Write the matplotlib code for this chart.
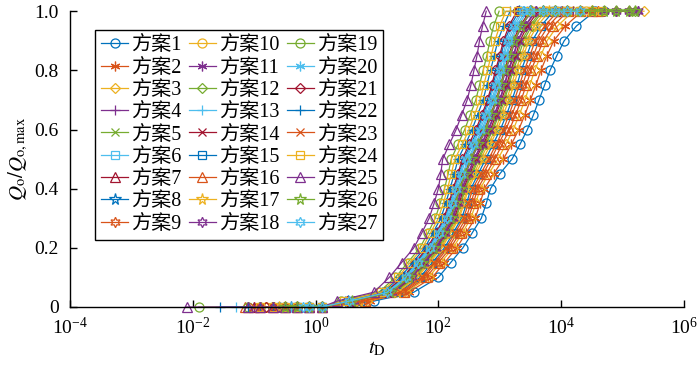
import numpy as np
import matplotlib
matplotlib.use('Agg')
from matplotlib import pyplot as plt

# Q_o/Q_o,max levels at which each curve is read, and log10(tD) for every scheme
levels = [0.02, 0.05, 0.1, 0.15, 0.2, 0.25, 0.3, 0.35, 0.4, 0.45, 0.5,
          0.55, 0.6, 0.65, 0.7, 0.75, 0.8, 0.85, 0.9, 0.95, 1.0]
zero_grid = [-1.1, -0.9, -0.7, -0.5, -0.3, -0.1, 0.1]
flat_grid = [2.9, 3.1, 3.3, 3.5, 3.7, 3.9, 4.1, 4.3, 4.5, 4.7, 4.9, 5.1]

start_log_td = [-0.6, -0.9, -0.8, -1.0, -0.7, -0.5, -1.0, -0.4, -0.9,
                -0.8, -0.6, -0.7, -1.3, -0.5, -0.3, -1.15, -0.6, -0.7,
                -1.9, -0.4, -0.8, -1.56, -1.0, -0.9, -2.1, -0.5, -0.2]
end_log_td = [4.7, 4.6, 5.35, 4.2, 4.3, 4.0, 4.0, 3.9, 4.5,
              4.4, 5.25, 5.2, 3.8, 4.4, 4.5, 4.6, 4.5, 5.25,
              2.99, 4.0, 4.1, 3.4, 4.5, 4.67, 2.78, 5.2, 4.3]

rise_log_td = [
    [0.95, 1.60, 2.00, 2.20, 2.40, 2.55, 2.70, 2.78, 2.85, 3.00, 3.20, 3.33, 3.45, 3.55, 3.64, 3.73, 3.82, 3.93, 4.05, 4.25, 4.55],
    [0.88, 1.52, 1.90, 2.10, 2.30, 2.45, 2.60, 2.68, 2.75, 2.90, 3.06, 3.19, 3.31, 3.41, 3.50, 3.59, 3.67, 3.77, 3.88, 4.07, 4.34],
    [0.83, 1.47, 1.84, 2.04, 2.24, 2.39, 2.53, 2.61, 2.68, 2.82, 2.97, 3.10, 3.22, 3.32, 3.41, 3.49, 3.57, 3.67, 3.77, 3.94, 4.20],
    [0.62, 1.24, 1.56, 1.76, 1.96, 2.10, 2.23, 2.31, 2.38, 2.48, 2.58, 2.70, 2.81, 2.91, 3.00, 3.07, 3.14, 3.22, 3.29, 3.41, 3.58],
    [0.65, 1.28, 1.60, 1.80, 2.00, 2.14, 2.28, 2.36, 2.43, 2.53, 2.64, 2.76, 2.87, 2.97, 3.06, 3.13, 3.20, 3.28, 3.36, 3.49, 3.67],
    [0.57, 1.18, 1.49, 1.69, 1.89, 2.03, 2.16, 2.24, 2.31, 2.40, 2.48, 2.60, 2.71, 2.80, 2.89, 2.96, 3.03, 3.10, 3.17, 3.27, 3.42],
    [0.59, 1.21, 1.52, 1.72, 1.92, 2.06, 2.19, 2.27, 2.34, 2.43, 2.52, 2.64, 2.75, 2.85, 2.94, 3.01, 3.08, 3.15, 3.22, 3.33, 3.49],
    [0.53, 1.15, 1.44, 1.64, 1.84, 1.98, 2.11, 2.19, 2.26, 2.34, 2.41, 2.53, 2.64, 2.73, 2.82, 2.89, 2.95, 3.02, 3.08, 3.18, 3.31],
    [0.77, 1.41, 1.76, 1.96, 2.16, 2.31, 2.45, 2.53, 2.60, 2.73, 2.86, 2.98, 3.10, 3.20, 3.29, 3.37, 3.45, 3.55, 3.64, 3.79, 4.02],
    [0.68, 1.31, 1.64, 1.84, 2.04, 2.18, 2.32, 2.40, 2.47, 2.58, 2.69, 2.81, 2.93, 3.02, 3.11, 3.19, 3.26, 3.35, 3.43, 3.56, 3.75],
    [0.60, 1.22, 1.54, 1.74, 1.94, 2.08, 2.21, 2.29, 2.36, 2.45, 2.54, 2.66, 2.78, 2.87, 2.96, 3.03, 3.10, 3.18, 3.25, 3.36, 3.52],
    [0.66, 1.29, 1.62, 1.82, 2.02, 2.16, 2.29, 2.37, 2.44, 2.55, 2.66, 2.78, 2.89, 2.99, 3.08, 3.15, 3.22, 3.31, 3.39, 3.52, 3.70],
    [0.58, 1.20, 1.50, 1.70, 1.90, 2.04, 2.17, 2.25, 2.32, 2.41, 2.50, 2.62, 2.73, 2.82, 2.91, 2.98, 3.05, 3.12, 3.19, 3.30, 3.45],
    [0.64, 1.26, 1.58, 1.78, 1.98, 2.12, 2.26, 2.34, 2.41, 2.51, 2.61, 2.73, 2.85, 2.94, 3.03, 3.11, 3.18, 3.26, 3.33, 3.45, 3.63],
    [0.72, 1.35, 1.70, 1.90, 2.10, 2.24, 2.38, 2.46, 2.53, 2.65, 2.77, 2.89, 3.01, 3.11, 3.20, 3.28, 3.35, 3.44, 3.53, 3.67, 3.88],
    [0.80, 1.44, 1.80, 2.00, 2.20, 2.35, 2.49, 2.57, 2.64, 2.78, 2.92, 3.04, 3.16, 3.26, 3.35, 3.43, 3.51, 3.61, 3.71, 3.87, 4.11],
    [0.70, 1.33, 1.66, 1.86, 2.06, 2.20, 2.34, 2.42, 2.49, 2.61, 2.73, 2.85, 2.96, 3.06, 3.15, 3.23, 3.30, 3.39, 3.47, 3.61, 3.81],
    [0.63, 1.25, 1.57, 1.77, 1.97, 2.11, 2.24, 2.32, 2.39, 2.49, 2.59, 2.71, 2.82, 2.92, 3.01, 3.08, 3.15, 3.23, 3.30, 3.42, 3.59],
    [0.42, 1.03, 1.30, 1.50, 1.70, 1.83, 1.95, 2.03, 2.10, 2.16, 2.21, 2.32, 2.43, 2.52, 2.61, 2.67, 2.73, 2.79, 2.84, 2.90, 2.99],
    [0.54, 1.16, 1.46, 1.66, 1.86, 1.99, 2.12, 2.20, 2.27, 2.35, 2.43, 2.55, 2.66, 2.75, 2.84, 2.91, 2.98, 3.05, 3.11, 3.21, 3.35],
    [0.52, 1.13, 1.42, 1.62, 1.82, 1.96, 2.09, 2.17, 2.24, 2.32, 2.39, 2.50, 2.61, 2.71, 2.80, 2.87, 2.93, 3.00, 3.06, 3.15, 3.28],
    [0.48, 1.09, 1.38, 1.58, 1.78, 1.91, 2.04, 2.12, 2.19, 2.26, 2.32, 2.44, 2.55, 2.64, 2.73, 2.79, 2.85, 2.91, 2.97, 3.06, 3.17],
    [0.75, 1.38, 1.73, 1.93, 2.13, 2.27, 2.41, 2.49, 2.56, 2.69, 2.82, 2.94, 3.06, 3.15, 3.24, 3.32, 3.40, 3.49, 3.58, 3.73, 3.95],
    [0.46, 1.07, 1.34, 1.54, 1.74, 1.87, 2.00, 2.08, 2.15, 2.21, 2.27, 2.39, 2.50, 2.59, 2.68, 2.74, 2.80, 2.86, 2.92, 3.00, 3.10],
    [0.35, 0.95, 1.20, 1.40, 1.60, 1.73, 1.85, 1.93, 2.00, 2.04, 2.07, 2.18, 2.29, 2.38, 2.47, 2.53, 2.58, 2.63, 2.67, 2.72, 2.78],
    [0.60, 1.22, 1.53, 1.73, 1.93, 2.07, 2.20, 2.28, 2.35, 2.44, 2.53, 2.65, 2.77, 2.86, 2.95, 3.02, 3.09, 3.17, 3.24, 3.35, 3.51],
    [0.55, 1.17, 1.47, 1.67, 1.87, 2.01, 2.14, 2.22, 2.29, 2.37, 2.45, 2.57, 2.68, 2.78, 2.87, 2.94, 3.00, 3.07, 3.14, 3.24, 3.38],
]

labels = ['方案%d' % (i + 1) for i in range(27)]
x_ticks = [1e-4, 1e-2, 1e0, 1e2, 1e4, 1e6]
y_ticks = [0, 0.2, 0.4, 0.6, 0.8, 1.0]
y_tick_labels = ['0', '0.2', '0.4', '0.6', '0.8', '1.0']

colors = ['#0072BD', '#D95319', '#EDB120', '#7E2F8E', '#77AC30', '#4DBEEE', '#A2142F']
markers = ['o', (6, 2, 0), 'D', '+', 'x', 's', '^', '*', (6, 1, 0)]
msizes = [6.5, 7, 5, 7.5, 6, 5.5, 7, 8.5, 7.5]

plt.rcParams['font.family'] = ['Liberation Serif', 'Noto Sans CJK SC']
plt.rcParams['mathtext.fontset'] = 'stix'

fig = plt.figure(figsize=(7, 3.67), dpi=100)
ax = fig.add_axes([0.1, 0.1635, 0.877, 0.806])

for i in range(27):
    t0 = start_log_td[i]
    rise = rise_log_td[i]
    top = rise[-1]
    xs = [t0] + [g for g in zero_grid if g > t0]
    ys = [0.0] * len(xs)
    xs += rise
    ys += levels
    flat = [g for g in flat_grid if top < g < end_log_td[i]]
    if end_log_td[i] > top:
        flat.append(end_log_td[i])
    xs += flat
    ys += [1.0] * len(flat)
    ax.plot(np.power(10.0, xs), ys, color=colors[i % 7], marker=markers[i % 9],
            ms=msizes[i % 9], mfc='none', mew=0.9, lw=0.9, label=labels[i],
            clip_on=False)

ax.set_xscale('log')
ax.set_xlim(1e-4, 1e6)
ax.set_ylim(0, 1.0)
ax.set_xticks(x_ticks)
ax.minorticks_off()
ax.set_yticks(y_ticks)
ax.set_yticklabels(y_tick_labels)
ax.tick_params(direction='in', length=5, width=1, labelsize=14)
ax.tick_params(axis='y', pad=8)
ax.tick_params(axis='x', pad=7)
ax.spines['top'].set_visible(False)
ax.spines['right'].set_visible(False)
ax.spines['left'].set_linewidth(1)
ax.spines['bottom'].set_linewidth(1)

ax.set_xlabel(r'$t_{\mathrm{D}}$', fontsize=15, labelpad=1)
ax.set_ylabel(r'$Q_{\mathrm{o}}/Q_{\mathrm{o,max}}$', fontsize=15, labelpad=3)

leg = ax.legend(ncol=3, loc='upper left', bbox_to_anchor=(0.041, 0.936),
                borderaxespad=0, fontsize=14.5, handlelength=1.35,
                handletextpad=0.15, columnspacing=0.35, labelspacing=0.16,
                borderpad=0.3, fancybox=False, framealpha=1, edgecolor='black')
leg.get_frame().set_linewidth(1)

plt.savefig('out.png', dpi=100)
